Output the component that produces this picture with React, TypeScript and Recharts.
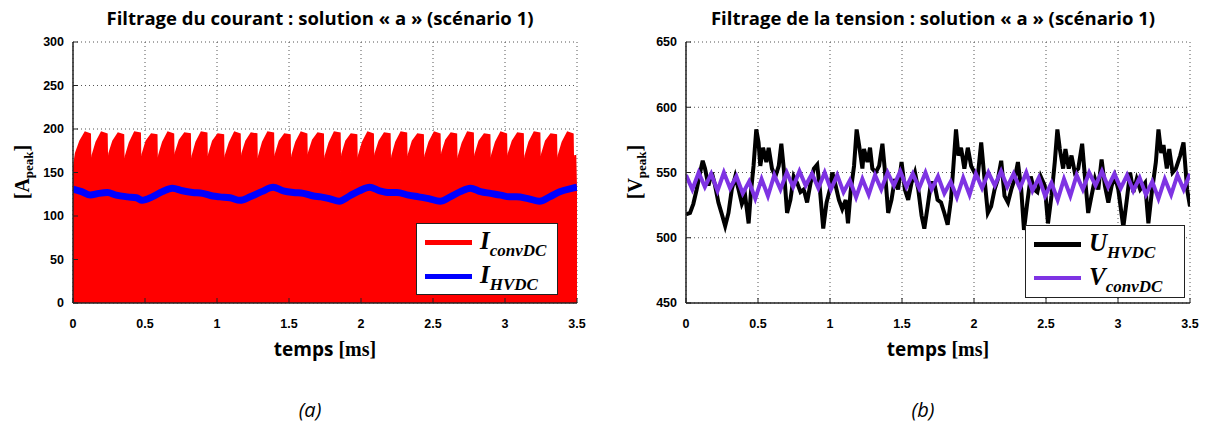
import React from 'react';
import { ComposedChart, Area, Line, XAxis, YAxis, CartesianGrid } from 'recharts';

// temps [ms] / valeurs
const timeTicks = [0, 0.5, 1, 1.5, 2, 2.5, 3, 3.5];
const currentTicks = [0, 50, 100, 150, 200, 250, 300];
const voltageTicks = [450, 500, 550, 600, 650];

// I_convDC : enveloppe haute des dents (le signal remplit jusqu'a 0)
const iConvDC = [
  [0, 150], [0.02, 172], [0.05, 186], [0.085, 196], [0.118, 194],
  [0.122, 147], [0.136, 170], [0.163, 185], [0.198, 196], [0.234, 194],
  [0.238, 152], [0.252, 172], [0.279, 186], [0.314, 195], [0.349, 193],
  [0.353, 146], [0.367, 169], [0.394, 184], [0.429, 196], [0.465, 195],
  [0.469, 150], [0.483, 171], [0.51, 186], [0.545, 194], [0.58, 193],
  [0.584, 148], [0.598, 170], [0.625, 185], [0.66, 196], [0.696, 194],
  [0.7, 153], [0.714, 173], [0.741, 187], [0.776, 195], [0.812, 194],
  [0.816, 146], [0.83, 169], [0.857, 185], [0.892, 196], [0.927, 195],
  [0.931, 151], [0.945, 171], [0.972, 186], [1.007, 194], [1.043, 193],
  [1.047, 147], [1.061, 170], [1.088, 184], [1.123, 196], [1.158, 194],
  [1.162, 152], [1.176, 172], [1.203, 186], [1.238, 195], [1.274, 194],
  [1.278, 146], [1.292, 169], [1.319, 185], [1.354, 196], [1.39, 195],
  [1.394, 150], [1.408, 171], [1.435, 186], [1.47, 194], [1.505, 193],
  [1.509, 148], [1.523, 170], [1.55, 185], [1.585, 196], [1.621, 194],
  [1.625, 153], [1.639, 173], [1.666, 187], [1.701, 195], [1.736, 194],
  [1.74, 146], [1.754, 169], [1.781, 184], [1.816, 196], [1.852, 195],
  [1.856, 151], [1.87, 171], [1.897, 186], [1.932, 194], [1.968, 193],
  [1.972, 147], [1.986, 170], [2.013, 185], [2.048, 196], [2.083, 194],
  [2.087, 152], [2.101, 172], [2.128, 186], [2.163, 195], [2.199, 194],
  [2.203, 146], [2.217, 169], [2.244, 185], [2.279, 196], [2.314, 195],
  [2.318, 150], [2.332, 171], [2.359, 186], [2.394, 194], [2.43, 193],
  [2.434, 148], [2.448, 170], [2.475, 185], [2.51, 196], [2.546, 194],
  [2.55, 153], [2.564, 173], [2.591, 187], [2.626, 195], [2.661, 194],
  [2.665, 146], [2.679, 169], [2.706, 184], [2.741, 196], [2.777, 195],
  [2.781, 151], [2.795, 171], [2.822, 186], [2.857, 194], [2.892, 193],
  [2.896, 147], [2.91, 170], [2.937, 185], [2.972, 196], [3.008, 194],
  [3.012, 152], [3.026, 172], [3.053, 186], [3.088, 195], [3.124, 194],
  [3.128, 146], [3.142, 169], [3.169, 185], [3.204, 196], [3.239, 195],
  [3.243, 150], [3.257, 171], [3.284, 186], [3.319, 194], [3.355, 193],
  [3.359, 148], [3.373, 170], [3.4, 185], [3.435, 196], [3.47, 194],
  [3.474, 150], [3.488, 170], [3.5, 83],
];

const iHVDC = [
  [0, 131], [0.06, 128], [0.12, 124], [0.18, 126], [0.24, 127], [0.3, 124],
  [0.38, 122], [0.44, 121], [0.48, 118], [0.55, 122], [0.62, 128], [0.69, 132],
  [0.76, 129], [0.83, 127], [0.9, 126], [0.97, 123], [1.02, 122], [1.09, 121],
  [1.16, 118], [1.23, 122], [1.31, 128], [1.39, 133], [1.46, 129], [1.53, 127],
  [1.6, 126], [1.67, 123], [1.72, 122], [1.78, 120], [1.85, 117], [1.92, 123],
  [1.99, 129], [2.06, 133], [2.13, 129], [2.2, 127], [2.25, 127], [2.33, 124],
  [2.4, 122], [2.47, 120], [2.55, 117], [2.62, 122], [2.69, 128], [2.76, 132],
  [2.83, 128], [2.9, 126], [2.97, 124], [3.03, 122], [3.08, 122], [3.16, 120],
  [3.24, 117], [3.31, 122], [3.38, 128], [3.47, 132], [3.5, 133],
];

const uHVDC = [
  [0, 518], [0.028, 519], [0.051, 526], [0.074, 537], [0.098, 550], [0.116, 559],
  [0.132, 553], [0.156, 540], [0.179, 550], [0.202, 540], [0.225, 527], [0.249, 518],
  [0.272, 509], [0.295, 519], [0.318, 537], [0.342, 547], [0.365, 537], [0.388, 526],
  [0.411, 532], [0.435, 511], [0.451, 535], [0.469, 555], [0.488, 583], [0.504, 573],
  [0.516, 555], [0.535, 569], [0.558, 558], [0.574, 569], [0.597, 553], [0.621, 547],
  [0.644, 555], [0.662, 572], [0.679, 553], [0.702, 519], [0.725, 529], [0.748, 547],
  [0.772, 542], [0.795, 535], [0.818, 537], [0.841, 527], [0.865, 542], [0.888, 553],
  [0.911, 556], [0.93, 537], [0.953, 507], [0.976, 527], [0.999, 537], [1.016, 550],
  [1.039, 540], [1.062, 529], [1.085, 522], [1.109, 529], [1.125, 511], [1.143, 535],
  [1.167, 555], [1.185, 583], [1.202, 571], [1.225, 553], [1.236, 568], [1.26, 558],
  [1.278, 569], [1.294, 553], [1.318, 550], [1.341, 555], [1.364, 572], [1.38, 553],
  [1.404, 519], [1.427, 529], [1.45, 545], [1.473, 537], [1.497, 558], [1.52, 537],
  [1.543, 529], [1.566, 542], [1.59, 550], [1.613, 537], [1.636, 517], [1.655, 507],
  [1.678, 524], [1.701, 542], [1.724, 542], [1.747, 529], [1.771, 527], [1.794, 519],
  [1.817, 510], [1.84, 529], [1.859, 558], [1.875, 583], [1.892, 563], [1.91, 569],
  [1.933, 553], [1.957, 569], [1.98, 555], [2.003, 550], [2.026, 547], [2.05, 573],
  [2.073, 545], [2.096, 519], [2.119, 524], [2.143, 537], [2.166, 545], [2.189, 559],
  [2.212, 532], [2.236, 527], [2.259, 537], [2.282, 545], [2.305, 558], [2.328, 537],
  [2.347, 506], [2.37, 527], [2.394, 547], [2.417, 537], [2.44, 535], [2.463, 547],
  [2.491, 540], [2.514, 511], [2.538, 532], [2.561, 558], [2.579, 583], [2.596, 568],
  [2.619, 553], [2.635, 568], [2.658, 553], [2.677, 563], [2.7, 550], [2.724, 553],
  [2.751, 572], [2.77, 547], [2.793, 519], [2.816, 532], [2.84, 545], [2.863, 537],
  [2.886, 560], [2.909, 540], [2.933, 527], [2.956, 540], [2.979, 547], [3.002, 537],
  [3.037, 508], [3.061, 529], [3.084, 550], [3.107, 535], [3.13, 545], [3.154, 537],
  [3.188, 542], [3.211, 511], [3.235, 535], [3.263, 558], [3.281, 583], [3.3, 565],
  [3.316, 571], [3.339, 553], [3.356, 568], [3.379, 550], [3.402, 553], [3.432, 563],
  [3.455, 573], [3.48, 537], [3.5, 524],
];

const vConvDC = [
  [0, 548], [0.044, 537], [0.088, 550], [0.131, 539], [0.175, 549], [0.219, 536],
  [0.263, 550], [0.306, 538], [0.35, 547], [0.394, 534], [0.438, 543], [0.481, 530],
  [0.525, 545], [0.569, 532], [0.613, 548], [0.656, 537], [0.7, 550], [0.744, 539],
  [0.788, 551], [0.831, 540], [0.875, 549], [0.919, 538], [0.963, 550], [1.006, 537],
  [1.05, 548], [1.094, 535], [1.138, 544], [1.181, 531], [1.225, 545], [1.269, 533],
  [1.313, 548], [1.356, 537], [1.4, 550], [1.444, 540], [1.488, 551], [1.531, 539],
  [1.575, 549], [1.619, 538], [1.663, 550], [1.706, 537], [1.75, 547], [1.794, 534],
  [1.838, 543], [1.881, 531], [1.925, 546], [1.969, 533], [2.013, 549], [2.056, 538],
  [2.1, 550], [2.144, 540], [2.188, 551], [2.231, 539], [2.275, 549], [2.319, 538],
  [2.363, 550], [2.406, 536], [2.45, 546], [2.494, 532], [2.538, 542], [2.581, 529],
  [2.625, 545], [2.669, 532], [2.713, 548], [2.756, 537], [2.8, 550], [2.844, 540],
  [2.888, 551], [2.931, 539], [2.975, 549], [3.019, 538], [3.063, 548], [3.106, 536],
  [3.15, 546], [3.194, 533], [3.238, 543], [3.281, 530], [3.325, 545], [3.369, 533],
  [3.413, 548], [3.456, 537], [3.5, 549],
];

const toPoints = (pairs: number[][]) => pairs.map(([t, v]) => ({ t, v }));

const tickStyle = { fontFamily: '"Liberation Sans", Arial', fontWeight: 700, fontSize: 12.5, fill: '#000' };
const sansBold = '"Open Sans", "Liberation Sans", sans-serif';
const serif = '"Liberation Serif", "Times New Roman", serif';

type LegendItem = { color: string; main: string; sub: string; width: number };

const LegendBox = ({ left, top, width, height, items }: { left: number; top: number; width: number; height: number; items: LegendItem[] }) => (
  <div
    style={{
      position: 'absolute', left, top, width, height, background: '#fff',
      border: '1.5px solid #222', boxSizing: 'border-box',
    }}
  >
    {items.map((it, i) => (
      <div key={it.sub} style={{ position: 'absolute', left: 8, top: 5 + i * 34, height: 26, display: 'flex', alignItems: 'center' }}>
        <div style={{ width: 47, height: it.width, background: it.color }} />
        <span style={{ marginLeft: 8, fontFamily: serif, fontWeight: 'bold', fontStyle: 'italic', fontSize: 25, lineHeight: '26px', whiteSpace: 'nowrap' }}>
          {it.main}
          <span style={{ fontSize: 17, position: 'relative', top: 7 }}>{it.sub}</span>
        </span>
      </div>
    ))}
  </div>
);

const Panel = ({ left, title, yTicks, yDomain, yLabel, caption, children }: any) => (
  <div style={{ position: 'absolute', left, top: 0, width: 600, height: 427 }}>
    <div style={{ position: 'absolute', left: 0, width: 640, top: 5, textAlign: 'center', fontFamily: sansBold, fontWeight: 700, fontSize: 18.5, whiteSpace: 'nowrap' }}>
      {title}
    </div>
    <ComposedChart width={600} height={360} margin={{ top: 42, right: 23, bottom: 27, left: 0 }}>
      <CartesianGrid stroke="#555" strokeDasharray="1 3" />
      <XAxis
        dataKey="t" type="number" domain={[0, 3.5]} ticks={timeTicks} allowDataOverflow
        height={30} tick={tickStyle} tickSize={-5} tickMargin={21}
        axisLine={{ stroke: '#222', strokeWidth: 1.5 }} tickLine={{ stroke: '#222' }}
      />
      <YAxis
        type="number" domain={yDomain} ticks={yTicks} allowDataOverflow width={73}
        tick={tickStyle} tickSize={-5} tickMargin={14}
        axisLine={{ stroke: '#222', strokeWidth: 1.5 }} tickLine={{ stroke: '#222' }}
      />
      {children}
    </ComposedChart>
    <div
      style={{
        position: 'absolute', left: 22, top: 172, transform: 'translate(-50%, -50%) rotate(-90deg)',
        fontFamily: serif, fontWeight: 'bold', fontSize: 20, whiteSpace: 'nowrap',
      }}
    >
      [{yLabel[0]}<span style={{ fontSize: 13, position: 'relative', top: 4 }}>{yLabel[1]}</span>]
    </div>
    <div style={{ position: 'absolute', left: 225, width: 200, top: 336, textAlign: 'center', fontWeight: 'bold', fontSize: 20, whiteSpace: 'nowrap' }}>
      <span style={{ fontFamily: sansBold, fontSize: 19 }}>temps </span>
      <span style={{ fontFamily: serif }}>[ms]</span>
    </div>
    <div style={{ position: 'absolute', left: 260, width: 100, top: 396, textAlign: 'center', fontFamily: sansBold, fontStyle: 'italic', fontSize: 20 }}>
      {caption}
    </div>
  </div>
);

export default function App() {
  return (
    <div style={{ position: 'absolute', left: 0, top: 0, width: 1207, height: 427, background: '#fff', overflow: 'hidden' }}>
      <Panel left={0} title="Filtrage du courant : solution « a » (scénario 1)" yTicks={currentTicks} yDomain={[0, 300]} yLabel={['A', 'peak']} caption="(a)">
        <Area
          data={toPoints(iConvDC)} dataKey="v" type="linear" baseValue={0}
          stroke="#ff0000" strokeWidth={2} fill="#ff0000" fillOpacity={1} isAnimationActive={false}
        />
        <Line
          data={toPoints(iHVDC)} dataKey="v" type="monotone" dot={false}
          stroke="#0000ff" strokeWidth={7} isAnimationActive={false}
        />
      </Panel>
      <Panel left={613} title="Filtrage de la tension : solution « a » (scénario 1)" yTicks={voltageTicks} yDomain={[450, 650]} yLabel={['V', 'peak']} caption="(b)">
        <Line
          data={toPoints(uHVDC)} dataKey="v" type="linear" dot={false}
          stroke="#000000" strokeWidth={4} isAnimationActive={false}
        />
        <Line
          data={toPoints(vConvDC)} dataKey="v" type="linear" dot={false}
          stroke="#7e33e3" strokeWidth={4} isAnimationActive={false}
        />
      </Panel>
      <LegendBox
        left={416} top={223} width={142} height={72}
        items={[
          { color: '#ff0000', main: 'I', sub: 'convDC', width: 5 },
          { color: '#0000ff', main: 'I', sub: 'HVDC', width: 5 },
        ]}
      />
      <LegendBox
        left={1025} top={225} width={160} height={73}
        items={[
          { color: '#000000', main: 'U', sub: 'HVDC', width: 5 },
          { color: '#7e33e3', main: 'V', sub: 'convDC', width: 4 },
        ]}
      />
    </div>
  );
}
